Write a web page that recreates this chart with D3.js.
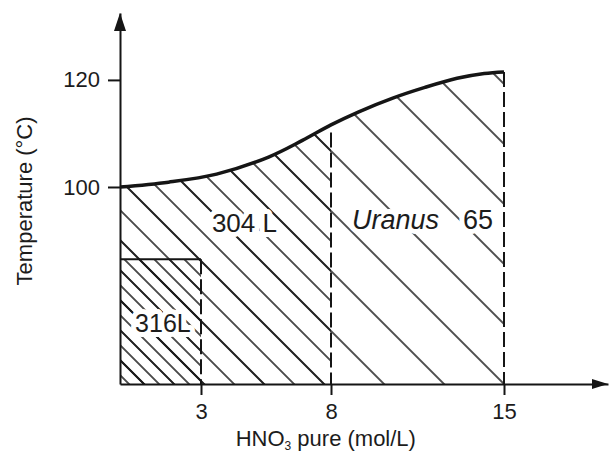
<!DOCTYPE html>
<html>
<head>
<meta charset="utf-8">
<script src="https://cdn.jsdelivr.net/npm/d3@7"></script>
<style>
  body { margin: 0; background: #fff; }
  text { font-family: "Liberation Sans", Arial, sans-serif; fill: #1c1c1c; }
</style>
</head>
<body>
<div id="chart"></div>
<script>
// HNO3 concentration (mol/L) vs. temperature limit (°C)
let conc = [0, 1.8, 3.6, 5.6, 6.9, 8, 9.1, 10.5, 11.8, 13.1, 14.2, 15]
let temp = [100, 100.9, 102.4, 105.6, 108.7, 111.6, 114.0, 116.6, 118.6, 120.3, 121.2, 121.5]
let xTicks = [3, 8, 15]
let yTicks = [100, 120]

// grade limits
let lim316 = { conc: 3, temp: 86.5 }
let lim304 = 8
let limUranus = 15

let width = 609
let height = 455
let ink = '#151515'

// the hand drawn axis is not quite even, so use a polylinear scale
let x = d3.scaleLinear()
  .domain([0, 3, 8, 15, 19.3])
  .range([120, 201, 331, 504, 608])
let y = d3.scaleLinear()
  .domain([63.2, 132.5])
  .range([384, 13])

let xMin = x.domain()[0], xMax = x.domain()[4]
let yMin = y.domain()[0], yMax = y.domain()[1]

let points = conc.map((c, i) => [c, temp[i]])

let svg = d3.select('#chart').append('svg')
  .attr('width', width)
  .attr('height', height)

let defs = svg.append('defs')

// 45 degree hatching, all families share one line through the (15, bottom) corner
let hatches = [
  { id: 'h60', gap: 60 },
  { id: 'h30', gap: 30 },
  { id: 'h15', gap: 15 }
]
hatches.forEach(h => {
  let p = h.gap * Math.SQRT1_2
  let pat = defs.append('pattern')
    .attr('id', h.id)
    .attr('patternUnits', 'userSpaceOnUse')
    .attr('width', 10)
    .attr('height', p)
    .attr('patternTransform', `translate(${x(limUranus)},${y(yMin)}) rotate(45)`)
  ;[0, p].forEach(v => pat.append('line')
    .attr('x1', 0).attr('x2', 10)
    .attr('y1', v).attr('y2', v)
    .attr('stroke', ink)
    .attr('stroke-width', 1.5))
})

defs.append('clipPath').attr('id', 'clip304')
  .append('rect')
  .attr('x', x(xMin))
  .attr('y', 0)
  .attr('width', x(lim304) - x(xMin))
  .attr('height', y(yMin))

let curve = d3.line()
  .x(d => x(d[0]))
  .y(d => y(d[1]))
  .curve(d3.curveCatmullRom.alpha(0.5))
let area = d3.area()
  .x(d => x(d[0]))
  .y0(y(yMin))
  .y1(d => y(d[1]))
  .curve(d3.curveCatmullRom.alpha(0.5))

// Uranus 65 zone (whole region), 304L extra lines, 316L extra lines
svg.append('path')
  .attr('d', area(points))
  .attr('fill', 'url(#h60)')
svg.append('path')
  .attr('d', area(points))
  .attr('clip-path', 'url(#clip304)')
  .attr('fill', 'url(#h30)')
svg.append('rect')
  .attr('x', x(xMin))
  .attr('y', y(lim316.temp))
  .attr('width', x(lim316.conc) - x(xMin))
  .attr('height', y(yMin) - y(lim316.temp))
  .attr('fill', 'url(#h15)')

// zone borders
svg.append('line')
  .attr('x1', x(xMin)).attr('x2', x(lim316.conc))
  .attr('y1', y(lim316.temp)).attr('y2', y(lim316.temp))
  .attr('stroke', ink).attr('stroke-width', 2)
let dashed = [
  [lim316.conc, lim316.temp],
  [lim304, temp[conc.indexOf(lim304)] - 1.4],
  [limUranus, temp[conc.indexOf(limUranus)]]
]
svg.selectAll('line.limit')
  .data(dashed)
  .enter().append('line')
    .attr('class', 'limit')
    .attr('x1', d => x(d[0])).attr('x2', d => x(d[0]))
    .attr('y1', d => y(d[1])).attr('y2', y(yMin))
    .attr('stroke', ink)
    .attr('stroke-width', 2)
    .attr('stroke-dasharray', '15,5')

svg.append('path')
  .attr('d', curve(points))
  .attr('fill', 'none')
  .attr('stroke', ink)
  .attr('stroke-width', 3.5)

// axes
let xAxis = svg.append('g')
  .attr('transform', `translate(0,${y(yMin)})`)
  .call(d3.axisBottom(x).tickValues(xTicks).tickSize(11).tickSizeOuter(0).tickPadding(8))
let yAxis = svg.append('g')
  .attr('transform', `translate(${x(xMin)},0)`)
  .call(d3.axisLeft(y).tickValues(yTicks).tickSize(12).tickSizeOuter(0).tickPadding(8))

;[xAxis, yAxis].forEach(g => {
  g.attr('font-size', 22).attr('font-family', '"Liberation Sans", Arial, sans-serif')
  g.selectAll('path, line').attr('stroke', ink).attr('stroke-width', 2)
  g.selectAll('text').attr('fill', '#1c1c1c')
})

// arrow heads
svg.append('path')
  .attr('d', `M${x(xMin)},${y(yMax)} l-6,18 l12,0 z`)
  .attr('fill', ink)
svg.append('path')
  .attr('d', `M${x(xMax)},${y(yMin)} l-16,-5 l0,10 z`)
  .attr('fill', ink)

// axis titles
svg.append('text')
  .attr('transform', `translate(32,${y(97.4)}) rotate(-90)`)
  .attr('text-anchor', 'middle')
  .attr('font-size', 22)
  .text('Temperature (°C)')

let xTitle = svg.append('text')
  .attr('x', x(7.8))
  .attr('y', 446)
  .attr('text-anchor', 'middle')
  .attr('font-size', 22)
xTitle.append('tspan').text('HNO')
xTitle.append('tspan').attr('font-size', 12).attr('dy', 4).text('3')
xTitle.append('tspan').attr('dy', -4).text(' pure (mol/L)')

// zone labels with a white halo that breaks the hatching
let halo = sel => sel
  .attr('stroke', '#fff')
  .attr('stroke-width', 10)
  .attr('stroke-linejoin', 'round')
  .attr('paint-order', 'stroke')

svg.append('text')
  .attr('x', x(3.42))
  .attr('y', y(91.6))
  .attr('font-size', 26)
  .call(halo)
  .text('304 L')

let ur = svg.append('text')
  .attr('y', y(92.1))
  .attr('font-size', 27)
  .call(halo)
ur.append('tspan').attr('x', x(8.85)).attr('font-style', 'italic').text('Uranus')
ur.append('tspan').attr('x', x(13.34)).text('65')

svg.append('text')
  .attr('x', x(0.56))
  .attr('y', y(72.9))
  .attr('font-size', 25)
  .call(halo)
  .text('316L')
</script>
</body>
</html>
